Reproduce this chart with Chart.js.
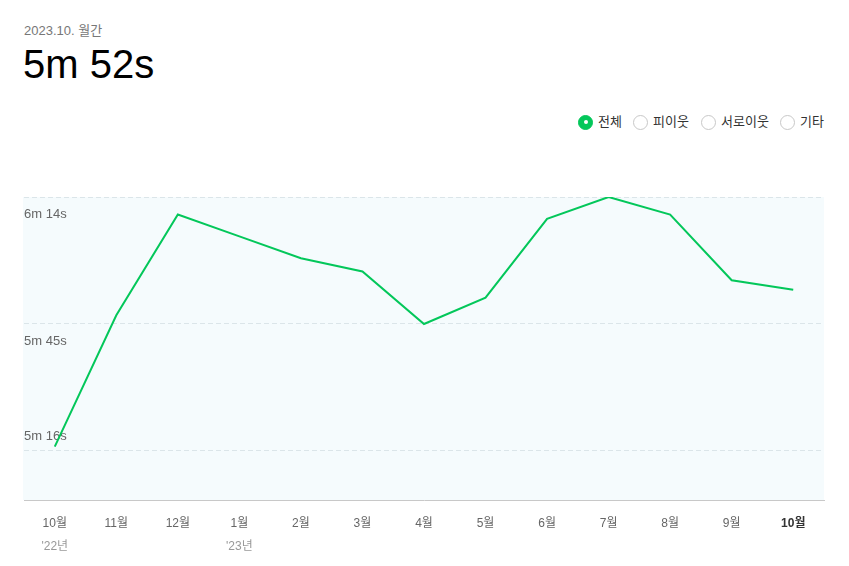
<!DOCTYPE html>
<html>
<head>
<meta charset="utf-8">
<script src="https://cdn.jsdelivr.net/npm/chart.js@4.4.0/dist/chart.umd.min.js"></script>
<style>
  html, body { margin: 0; padding: 0; background: #fff; }
  body { width: 849px; height: 566px; position: relative; overflow: hidden;
         font-family: "Liberation Sans", "Noto Sans CJK KR", sans-serif; }
  #sub { position: absolute; left: 24px; top: 24px; font-size: 13px; line-height: 13px; color: #777; }
  #big { position: absolute; left: 23px; top: 44px; font-size: 40px; line-height: 40px; color: #000; }
  .lg { position: absolute; top: 114px; height: 16px; font-size: 13px; line-height: 16px; color: #333; }
  .lg .c { position: absolute; left: 0; top: 0.5px; width: 13px; height: 13px; border: 1px solid #c8c8c8;
           border-radius: 50%; background: #fff; box-sizing: content-box; }
  .lg .c.on { background: #03c75a; border-color: #03c75a; }
  .lg .c.on::after { content: ""; position: absolute; left: 4.5px; top: 4.5px; width: 4px; height: 4px;
           border-radius: 50%; background: #fff; }
  .lg span { position: absolute; left: 20px; top: 0; white-space: nowrap; }
  #wrap { position: absolute; left: 0; top: 0; width: 849px; height: 566px; }
</style>
</head>
<body>
<div id="sub">2023.10. 월간</div>
<div id="big">5m 52s</div>
<div class="lg" style="left:578px"><div class="c on"></div><span>전체</span></div>
<div class="lg" style="left:633px"><div class="c"></div><span>피이웃</span></div>
<div class="lg" style="left:701px"><div class="c"></div><span>서로이웃</span></div>
<div class="lg" style="left:780px"><div class="c"></div><span>기타</span></div>
<div id="wrap"><canvas id="cv" width="849" height="566"></canvas></div>
<script>
// ---- data (seconds of average stay time) ----
const months = ['10월','11월','12월','1월','2월','3월','4월','5월','6월','7월','8월','9월','10월'];
const years = ["'22년",'','',"'23년",'','','','','','','','',''];
const avgSeconds = [317, 347, 370, 365, 360, 357, 345, 351, 369, 374, 370, 355, 352.8];
const yTickValues = [316, 345, 374];
const yTickLabels = ['5m 16s', '5m 45s', '6m 14s'];

const FONT = '"Liberation Sans", "Noto Sans CJK KR", sans-serif';

const bgPlugin = {
  id: 'bg',
  beforeDraw(chart) {
    const a = chart.chartArea, ctx = chart.ctx;
    ctx.save();
    ctx.fillStyle = '#f5fbfd';
    ctx.fillRect(a.left - 1, a.top, a.right - a.left + 1, a.bottom - a.top);
    ctx.restore();
  }
};

const yLabelPlugin = {
  id: 'ylabels',
  beforeDatasetsDraw(chart) {
    const y = chart.scales.y, a = chart.chartArea, ctx = chart.ctx;
    ctx.save();
    ctx.font = '13px ' + FONT;
    ctx.fillStyle = '#666';
    ctx.textAlign = 'left';
    ctx.textBaseline = 'middle';
    yTickValues.forEach((v, i) => {
      const py = y.getPixelForValue(v);
      const off = (i === 0) ? -15 : 17;
      ctx.fillText(yTickLabels[i], a.left, py + off);
    });
    ctx.restore();
  }
};

new Chart(document.getElementById('cv'), {
  type: 'line',
  data: {
    labels: months,
    datasets: [{
      data: avgSeconds,
      borderColor: '#03c75a',
      borderWidth: 2,
      pointRadius: 0,
      pointHoverRadius: 0,
      tension: 0,
      fill: false,
      xAxisID: 'x',
      yAxisID: 'y'
    }]
  },
  options: {
    responsive: false,
    animation: false,
    events: [],
    layout: { padding: { left: 24, right: 25, top: 197, bottom: 11 } },
    plugins: { legend: { display: false }, tooltip: { enabled: false } },
    scales: {
      x: {
        type: 'category',
        position: 'bottom',
        weight: 0,
        offset: true,
        grid: { display: false, drawTicks: false },
        border: { display: true, color: '#c8c8c8', width: 1 },
        ticks: {
          padding: 16,
          autoSkip: false,
          maxRotation: 0,
          font: (ctx) => ({ family: FONT, size: 12, weight: ctx.index === 12 ? 'bold' : 'normal' }),
          color: (ctx) => ctx.index === 12 ? '#333' : '#666'
        },
        afterFit(s) { s.height = 33; }
      },
      x2: {
        type: 'category',
        position: 'bottom',
        weight: 1,
        offset: true,
        labels: years,
        grid: { display: false, drawTicks: false },
        border: { display: false },
        ticks: {
          padding: 6,
          autoSkip: false,
          maxRotation: 0,
          font: { family: FONT, size: 12 },
          color: '#999'
        },
        afterFit(s) { s.height = 22; }
      },
      y: {
        type: 'linear',
        min: 304.8,
        max: 374,
        afterBuildTicks(s) { s.ticks = yTickValues.map(v => ({ value: v })); },
        ticks: { display: false },
        grid: { color: '#dbe5e9', lineWidth: 1, drawTicks: false },
        border: { display: false, dash: [5, 3] },
        afterFit(s) { s.width = 0; }
      }
    }
  },
  plugins: [bgPlugin, yLabelPlugin]
});
</script>
</body>
</html>
